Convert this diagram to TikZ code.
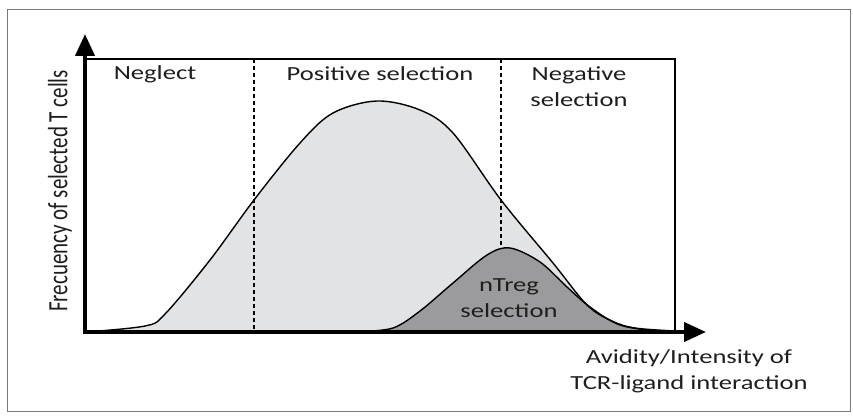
\documentclass[tikz,border=0pt]{standalone}
\usepackage{fontspec}
\setmainfont{Carlito}[FakeStretch=1.33]
\newfontfamily\plainfont{Carlito}
\usetikzlibrary{arrows.meta}
\definecolor{popfill}{HTML}{E1E3E5}
\definecolor{tregfill}{HTML}{9B9B9D}
\definecolor{framegray}{HTML}{7A7A7A}
\definecolor{txt}{HTML}{1E1E1E}
\tikzset{
  curve/.style={line width=1.4pt, black},
  divider/.style={line width=1.4pt, dash pattern=on 4pt off 3pt},
  axis/.style={line width=4pt, -{Triangle[length=22pt,width=19pt]}},
  lbl/.style={text=txt, font=\fontsize{20}{26}\selectfont, align=center, inner sep=0pt}
}
\begin{document}
\begin{tikzpicture}[x=1pt,y=-1pt]
\useasboundingbox (0,0) rectangle (853,417);
% outer frame
\draw[framegray, line width=1.2pt] (7.5,9.5) rectangle (850.5,411.5);

% whole population of selected T cells
\fill[popfill] plot[smooth, tension=0.55] coordinates {(85,332) (145,326) (165,314) (210,260) (254,200) (300,143) (333,113) (377,101) (420,110) (453,133) (501,200) (553,263) (587,305) (612,321) (635,328) (675,331)} -- (675,332) -- (85,332) -- cycle;

% nTreg population
\fill[tregfill] plot[smooth, tension=0.55] coordinates {(360,331.5) (393,328) (420,311) (453,283) (487,255) (510,248) (540,262) (567,287) (590,307) (620,325) (660,331.5) (675,332)} -- (360,332) -- cycle;

% selection windows
\draw[divider] (254,59) -- (254,332);
\draw[divider] (501,59) -- (501,249);

\draw[curve] plot[smooth, tension=0.55] coordinates {(85,332) (145,326) (165,314) (210,260) (254,200) (300,143) (333,113) (377,101) (420,110) (453,133) (501,200) (553,263) (587,305) (612,321) (635,328) (675,331)};
\draw[curve] plot[smooth, tension=0.55] coordinates {(360,331.5) (393,328) (420,311) (453,283) (487,255) (510,248) (540,262) (567,287) (590,307) (620,325) (660,331.5) (675,332)};

% plot box
\coordinate (boxtl) at (85,59);
\coordinate (boxtr) at (675,59);
\coordinate (boxbr) at (675,332);
\draw[line width=1.4pt] (boxtl) -- (boxtr) -- (boxbr);

% axes
\coordinate (origin) at (85,332);
\coordinate (ytip) at (85,34);
\coordinate (xtip) at (706,332);
\draw[axis] ([yshift=-2pt]origin) -- (ytip);
\draw[axis] ([xshift=-2pt]origin) -- (xtip);

% labels
\node[lbl] (neglect) at (155,74) {Neglect};
\node[lbl] (positive) at (380,74) {Positive selection};
\node[lbl] (negative) at (579,87) {Negative\\selection};
\node[lbl] (ntreg) at (509,298) {nTreg\\selection};
\node[lbl] (xlabel) at (689,371) {Avidity/Intensity of\\TCR-ligand interaction};
\node[text=txt, inner sep=0pt] (ylabel) at (60,191)
  {\rotatebox{90}{\scalebox{1}[1.33]{\plainfont\fontsize{21}{25}\selectfont Frecuency of selected T cells}}};
\end{tikzpicture}
\end{document}
